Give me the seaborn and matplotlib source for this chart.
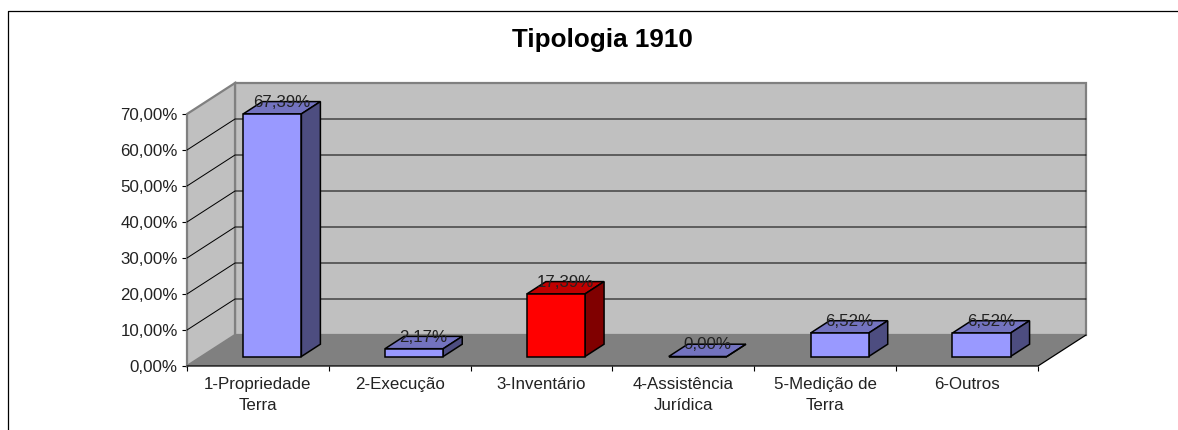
import matplotlib
matplotlib.use('Agg')
import matplotlib.pyplot as plt
import pandas as pd
import seaborn as sns
from matplotlib.lines import Line2D
from matplotlib.patches import Polygon

categorias = ['1-Propriedade\nTerra', '2-Execução', '3-Inventário',
              '4-Assistência\nJurídica', '5-Medição de\nTerra', '6-Outros']
valores = [67.39, 2.17, 17.39, 0.00, 6.52, 6.52]
rotulos = ['67,39%', '2,17%', '17,39%', '0,00%', '6,52%', '6,52%']
cores_frente = ['#9999FF', '#9999FF', '#FF0000', '#9999FF', '#9999FF', '#9999FF']
cores_topo = ['#7373BF', '#7373BF', '#BF0000', '#7373BF', '#7373BF', '#7373BF']
cores_lado = ['#4D4D80', '#4D4D80', '#800000', '#4D4D80', '#4D4D80', '#4D4D80']
y_ticks = [0, 10, 20, 30, 40, 50, 60, 70]
y_labels = ['0,00%', '10,00%', '20,00%', '30,00%', '40,00%', '50,00%', '60,00%', '70,00%']

W, H = 1178, 430
TAM = 12.2


def caixa(x0, y0, x1, y1):
    # posicao de uma area em pixels da imagem (origem no topo)
    return [x0 / W, 1 - y1 / H, (x1 - x0) / W, (y1 - y0) / H]


def main():
    sns.set_theme(style='white')
    plt.rcParams['font.family'] = ['Liberation Sans', 'DejaVu Sans']

    fig = plt.figure(figsize=(W / 100, H / 100), dpi=100, facecolor='white')
    ax = fig.add_axes(caixa(187, 114, 1038, 366))
    # eixo das barras, deslocado para dentro do chao
    ax_b = fig.add_axes(caixa(201.4, 104.5, 1052.4, 356.5))

    df = pd.DataFrame({'cat': categorias, 'val': valores})

    sns.barplot(data=df, x='cat', y='val', hue='cat', palette=cores_frente, legend=False,
                width=0.41, saturation=1, edgecolor='black', linewidth=1.1, ax=ax_b, zorder=3)
    ax_b.set_xlim(-0.5, 5.5)
    ax_b.set_ylim(0, 70)
    ax_b.axis('off')
    ax_b.patch.set_visible(False)

    # profundidade das barras e da parede, em unidades dos eixos
    bx, by = 19 / 141.8, 12.3 / 3.6
    px, py = 48 / 141.8, 31 / 3.6

    for i, barra in enumerate(ax_b.patches[:len(valores)]):
        barra.set_clip_on(False)
        x0, x1 = barra.get_x(), barra.get_x() + barra.get_width()
        v = barra.get_height()
        topo = [(x0, v), (x1, v), (x1 + bx, v + by), (x0 + bx, v + by)]
        lado = [(x1, 0), (x1 + bx, by), (x1 + bx, v + by), (x1, v)]
        ax_b.add_patch(Polygon(topo, closed=True, fc=cores_topo[i], ec='black', lw=1.1, clip_on=False, zorder=2))
        ax_b.add_patch(Polygon(lado, closed=True, fc=cores_lado[i], ec='black', lw=1.1, clip_on=False, zorder=2))
        ax_b.text((x0 + x1 + bx) / 2, v + by - 0.2, rotulos[i], ha='center', va='center', fontsize=TAM,
                  color='#222222', zorder=4, clip_on=False)

    # paredes e chao
    xa, xb = -0.5, 5.5
    ax.add_patch(Polygon([(xa + px, py), (xb + px, py), (xb + px, 70 + py), (xa + px, 70 + py)],
                         closed=True, fc='#C0C0C0', ec='#808080', lw=1.6, clip_on=False, zorder=1))
    ax.add_patch(Polygon([(xa, 0), (xa + px, py), (xa + px, 70 + py), (xa, 70)],
                         closed=True, fc='#C0C0C0', ec='#808080', lw=1.6, clip_on=False, zorder=1))
    ax.add_patch(Polygon([(xa, 0), (xb, 0), (xb + px, py), (xa + px, py)],
                         closed=True, fc='#808080', ec='none', clip_on=False, zorder=1.1))
    ax.plot([xa, xb, xb + px], [0, 0, py], color='black', lw=0.9, clip_on=False, zorder=1.5)

    for t in y_ticks[1:-1]:
        ax.plot([xa, xa + px, xb + px], [t, t + py, t + py], color='black', lw=0.72,
                clip_on=False, zorder=1.2)

    ax.set_xlim(xa, xb)
    ax.set_ylim(0, 70)
    ax.patch.set_visible(False)
    sns.despine(ax=ax, left=True, bottom=True, top=True, right=True)
    ax.set_xlabel('')
    ax.set_ylabel('')
    ax.set_yticks(y_ticks)
    ax.set_yticklabels(y_labels, fontsize=TAM, color='#222222')
    ax.set_xticks(range(len(categorias)))
    ax.set_xticklabels(categorias, fontsize=TAM, color='#222222', linespacing=1.48)
    ax.set_xticks([i - 0.5 for i in range(len(categorias) + 1)], minor=True)
    ax.tick_params(axis='x', which='major', length=0, pad=8)
    ax.tick_params(axis='x', which='minor', length=3.6, width=0.8, color='black', bottom=True)
    ax.tick_params(axis='y', length=3.6, width=0.8, color='black', pad=3, left=True)

    fig.text(602 / W, 1 - 39.5 / H, 'Tipologia 1910', fontsize=18.7, fontweight='bold',
             ha='center', va='center', color='black')

    # moldura cortada da area do grafico
    fig.add_artist(Line2D([7.5 / W, 7.5 / W, 1], [0, 1 - 10.5 / H, 1 - 10.5 / H], color='black', lw=0.9))

    fig.savefig('out.png', dpi=100, facecolor='white')


if __name__ == "__main__":
    main()
